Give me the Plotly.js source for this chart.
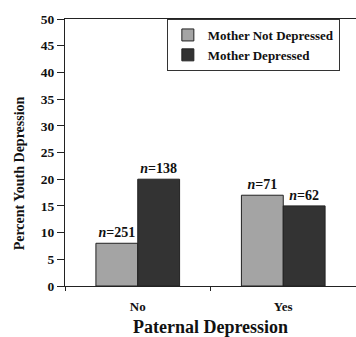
<!DOCTYPE html>
<html><head><meta charset="utf-8">
<script src="https://cdn.plot.ly/plotly-3.0.1.min.js"></script>
<style>html,body{margin:0;padding:0;background:#fff}#c{width:356px;height:337px}</style>
</head><body><div id="c"></div>
<script>
const categories = ["No", "Yes"];
const seriesNames = ["Mother Not Depressed", "Mother Depressed"];
const notDepressed = [8, 17];
const depressed = [20, 15];
const nNotDepressed = [251, 71];
const nDepressed = [138, 62];

const F = "Liberation Serif, Times New Roman, serif";
function mk(name, y, n, color) {
  return {
    type: "bar", name: "<b>" + name + "</b>", x: categories, y: y,
    text: n.map(v => "<b><i>n</i>=" + v + "</b>"),
    textposition: "outside", cliponaxis: false,
    textfont: {family: F, size: 14, color: "#111"},
    marker: {color: color, line: {color: "#222", width: 1}}
  };
}
const data = [
  mk(seriesNames[0], notDepressed, nNotDepressed, "#a4a4a4"),
  mk(seriesNames[1], depressed, nDepressed, "#333333")
];
const layout = {
  width: 356, height: 337,
  margin: {l: 65, r: 0, t: 19, b: 51},
  paper_bgcolor: "#fff", plot_bgcolor: "#fff",
  font: {family: F, color: "#111"},
  barmode: "group", bargap: 0.425, bargroupgap: 0,
  showlegend: true,
  legend: {x: 0.35, y: 1, xanchor: "left", yanchor: "top",
    bgcolor: "#fff", bordercolor: "#333", borderwidth: 1,
    font: {family: F, size: 13, color: "#111"},
    itemwidth: 30, tracegroupgap: 0},
  xaxis: {type: "category", range: [-0.5, 1.5], showgrid: false,
    showline: true, linecolor: "#222", linewidth: 1, mirror: true,
    ticks: "outside", tickson: "boundaries", ticklen: 4, tickcolor: "#222",
    ticklabelstandoff: 8,
    tickprefix: "<b>", ticksuffix: "</b>",
    tickfont: {family: F, size: 13},
    title: {text: "<b>Paternal Depression</b>", font: {family: F, size: 18}, standoff: 10}},
  yaxis: {range: [0, 50], dtick: 5, showgrid: false, zeroline: false,
    showline: true, linecolor: "#222", linewidth: 1,
    ticks: "outside", ticklen: 7, tickcolor: "#222",
    tickprefix: "<b>", ticksuffix: "</b>",
    tickfont: {family: F, size: 13.5},
    title: {text: "<b>Percent Youth Depression</b>" + "&nbsp;".repeat(12), font: {family: F, size: 14}, standoff: 12}}
};
Plotly.newPlot("c", data, layout, {displayModeBar: false, staticPlot: true});
</script></body></html>
